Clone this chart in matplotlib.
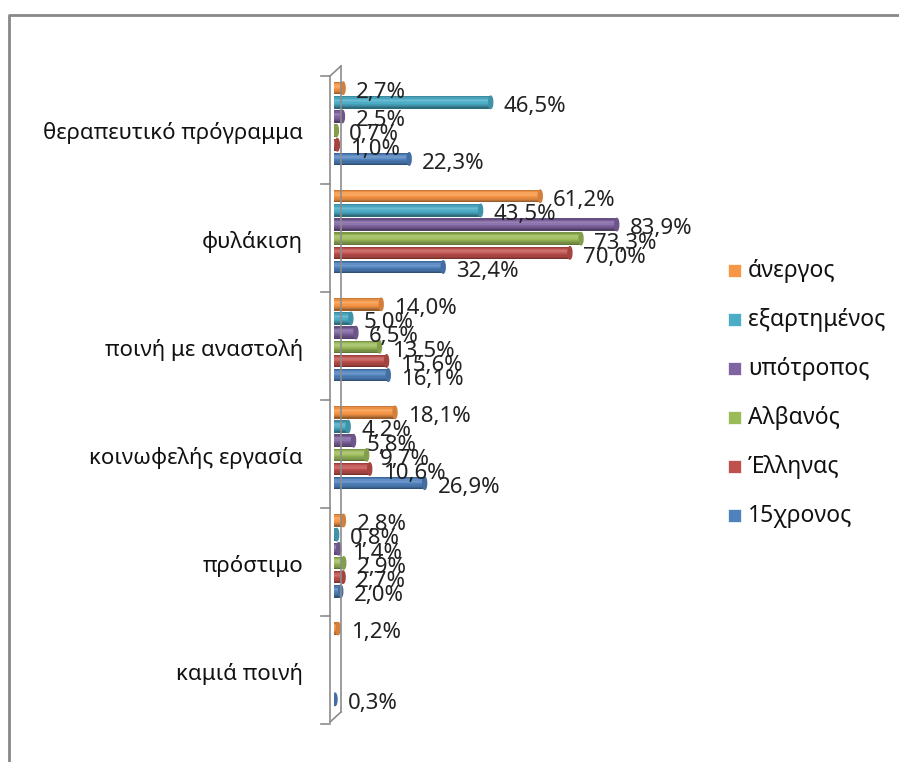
import numpy as np
import matplotlib.pyplot as plt
from matplotlib.patches import Ellipse
from matplotlib.lines import Line2D
from matplotlib.colors import to_rgb

plt.rcParams['font.family'] = ['Noto Sans', 'DejaVu Sans']

categories = ['θεραπευτικό πρόγραμμα', 'φυλάκιση', 'ποινή με αναστολή',
              'κοινωφελής εργασία', 'πρόστιμο', 'καμιά ποινή']
series = ['άνεργος', 'εξαρτημένος', 'υπότροπος', 'Αλβανός', 'Έλληνας', '15χρονος']
anergos = [2.7, 61.2, 14.0, 18.1, 2.8, 1.2]
eksartimenos = [46.5, 43.5, 5.0, 4.2, 0.8, np.nan]
ypotropos = [2.5, 83.9, 6.5, 5.8, 1.4, np.nan]
alvanos = [0.7, 73.3, 13.5, 9.7, 2.9, np.nan]
ellinas = [1.0, 70.0, 15.6, 10.6, 2.7, np.nan]
dekapentachronos = [22.3, 32.4, 16.1, 26.9, 2.0, 0.3]
values = [anergos, eksartimenos, ypotropos, alvanos, ellinas, dekapentachronos]
colors = ['#F79646', '#4BACC6', '#8064A2', '#9BBB59', '#C0504D', '#4F81BD']

W, H = 899, 762
fig = plt.figure(figsize=(W / 100, H / 100), dpi=100)

def fx(px):
    return px / W

def fy(py):
    return 1 - py / H

ax = fig.add_axes([fx(334), fy(718), fx(337), (718 - 69.5) / H])
ax.set_xlim(0, 100)
ax.set_ylim(5.5, -0.5)
ax.axis('off')

step = 0.131
bh = 0.115
# shading from top edge to bottom edge of each cylinder
shades = [0.8, 0.95, 1.1, 1.18, 1.1, 1.0, 0.92, 0.85, 0.75, 0.62]

def shade(c, f):
    r = np.array(to_rgb(c))
    if f >= 1:
        return tuple(r + (1 - r) * (f - 1))
    return tuple(r * f)

px_per_unit = 337 / 100
for si, (name, vals, col) in enumerate(zip(series, values, colors)):
    for ci, v in enumerate(vals):
        if np.isnan(v):
            continue
        yc = ci + (si - 2.5) * step
        n = len(shades)
        sh = bh / n
        for k, f in enumerate(shades):
            yk = yc - bh / 2 + (k + 0.5) * sh
            ax.barh(yk, v, height=sh * 1.05, left=0, color=shade(col, f),
                    linewidth=0)
        cap_w = 4.0 / px_per_unit
        ax.add_patch(Ellipse((v, yc), cap_w, bh, color=shade(col, 0.85),
                             zorder=3))
        ax.text(v + 13 / px_per_unit, yc + 0.04, f'{v:.1f}%'.replace('.', ','),
                va='center', ha='left', fontsize=16, color='#222222',
                zorder=5)

# category labels
for ci, cat in enumerate(categories):
    fig.text(fx(303), fy(123.5 + ci * 108.1 + 10), cat, ha='right',
             va='center', fontsize=16, color='#111111')

# wall of the category axis
gray = '#8c8c8c'
wall = [((330, 76), (330, 722)), ((341, 66), (341, 712)),
        ((330, 76), (341, 66)), ((330, 722), (341, 712))]
for ci in range(7):
    yb = 69.5 + ci * 108.1
    wall.append(((321, yb + 6), (330, yb + 6)))
for (x0, y0), (x1, y1) in wall:
    fig.add_artist(Line2D([fx(x0), fx(x1)], [fy(y0), fy(y1)], color=gray,
                          linewidth=1.2))

# legend
for si, (name, col) in enumerate(zip(series, colors)):
    yl = 271 + si * 49
    fig.patches.append(plt.Rectangle((fx(728), fy(yl + 6)), fx(13), 13 / H,
                                     facecolor=col, edgecolor='white',
                                     linewidth=0.5, transform=fig.transFigure))
    fig.text(fx(748), fy(yl), name, ha='left', va='center', fontsize=16.5,
             color='#111111')

# outer frame
fig.add_artist(Line2D([fx(9), fx(9), fx(899)], [fy(762), fy(15), fy(15)],
                      color='#888888', linewidth=2))

fig.savefig('out.png', dpi=100)
